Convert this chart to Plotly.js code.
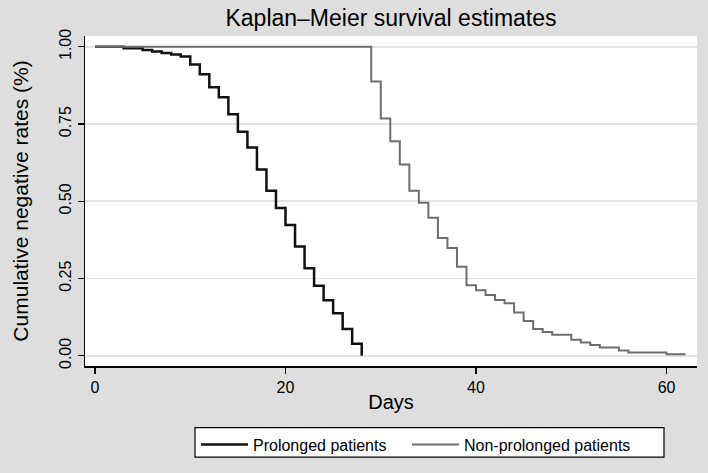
<!DOCTYPE html>
<html>
<head>
<meta charset="utf-8">
<script src="https://cdn.plot.ly/plotly-3.0.1.min.js"></script>
<style>html,body{margin:0;padding:0;background:#dedede;}#chart{width:708px;height:473px;}</style>
</head>
<body>
<div id="chart"></div>
<script>
// Days at which the Kaplan–Meier estimate steps, and the estimate after each step
const prolongedDays = [0, 3, 5, 6, 7, 8, 9, 10, 11, 12, 13, 14, 15, 16, 17, 18, 19, 20, 21, 22, 23, 24, 25, 26, 27, 28];
const prolongedSurv = [1, 0.995, 0.99, 0.985, 0.98, 0.975, 0.969, 0.943, 0.911, 0.869, 0.837, 0.782, 0.725, 0.674, 0.603, 0.534, 0.478, 0.423, 0.354, 0.283, 0.227, 0.180, 0.138, 0.087, 0.039, 0];

const nonProlongedDays = [0, 29, 30, 31, 32, 33, 34, 35, 36, 37, 38, 39, 40, 41, 42, 43, 44, 45, 46, 47, 48, 50, 51, 52, 53, 55, 56, 60, 62];
const nonProlongedSurv = [1, 0.888, 0.768, 0.694, 0.619, 0.534, 0.495, 0.447, 0.381, 0.349, 0.288, 0.228, 0.212, 0.197, 0.181, 0.170, 0.140, 0.113, 0.087, 0.077, 0.068, 0.052, 0.043, 0.035, 0.027, 0.017, 0.011, 0.005, 0.005];

const seriesNames = ["Prolonged patients", "Non-prolonged patients"];
const xTicks = [0, 20, 40, 60];
const yTicks = [0, 0.25, 0.5, 0.75, 1];
const yTickLabels = ["0.00", "0.25", "0.50", "0.75", "1.00"];

const FONT = "Liberation Sans, Arial, Helvetica, sans-serif";

const traces = [
  {x: prolongedDays, y: prolongedSurv, name: seriesNames[0], type: "scatter", mode: "lines",
   line: {shape: "hv", color: "#111111", width: 2.5}, legend: "legend"},
  {x: nonProlongedDays, y: nonProlongedSurv, name: seriesNames[1], type: "scatter", mode: "lines",
   line: {shape: "hv", color: "#6e6e6e", width: 2}, legend: "legend2"}
];

// legend frame (paper coordinates of the plot area: x 85..697 px, y 36..373 px)
const PW = 612, PH = 337;
const px2x = p => (p - 85) / PW;
const px2y = p => (373 - p) / PH;

const legendBase = {orientation: "h", xanchor: "left", y: px2y(436), yanchor: "top",
                    bgcolor: "rgba(0,0,0,0)", borderwidth: 0, font: {size: 16}, itemwidth: 47};

const layout = {
  width: 708, height: 473,
  paper_bgcolor: "#dedede", plot_bgcolor: "#ffffff",
  margin: {l: 85, r: 11, t: 36, b: 100},
  font: {family: FONT, color: "#000000", size: 16},
  title: {text: "Kaplan–Meier survival estimates", x: 0.5, xref: "paper", xanchor: "center",
          y: 0.962, yref: "container", yanchor: "middle", font: {family: FONT, size: 23, color: "#000"}},
  xaxis: {range: [-1.05, 63.2], tickvals: xTicks, ticks: "outside", ticklen: 6, tickwidth: 1.3, tickcolor: "#000",
          showgrid: false, zeroline: false, showline: true, linecolor: "#000", linewidth: 1.5,
          tickfont: {size: 16}, title: {text: "Days", font: {size: 20}, standoff: 0}},
  yaxis: {range: [-0.033, 1.035], tickvals: yTicks, ticktext: yTickLabels, tickangle: -90,
          ticks: "outside", ticklen: 6, tickwidth: 1.3, tickcolor: "#000",
          showgrid: true, gridcolor: "#e4e4e4", gridwidth: 1.8, zeroline: false,
          showline: true, linecolor: "#000", linewidth: 1.5,
          tickfont: {size: 16}, title: {text: "Cumulative negative rates (%)", font: {size: 21}, standoff: 22}},
  showlegend: true,
  legend: Object.assign({}, legendBase, {x: px2x(196)}),
  legend2: Object.assign({}, legendBase, {x: px2x(407)}),
  shapes: [{type: "rect", xref: "paper", yref: "paper", x0: px2x(195), x1: px2x(664), y0: px2y(436), y1: px2y(466),
            fillcolor: "#ffffff", line: {color: "#000000", width: 1.2}, layer: "above"}]
};

Plotly.newPlot("chart", traces, layout, {displayModeBar: false, staticPlot: true});
</script>
</body>
</html>
